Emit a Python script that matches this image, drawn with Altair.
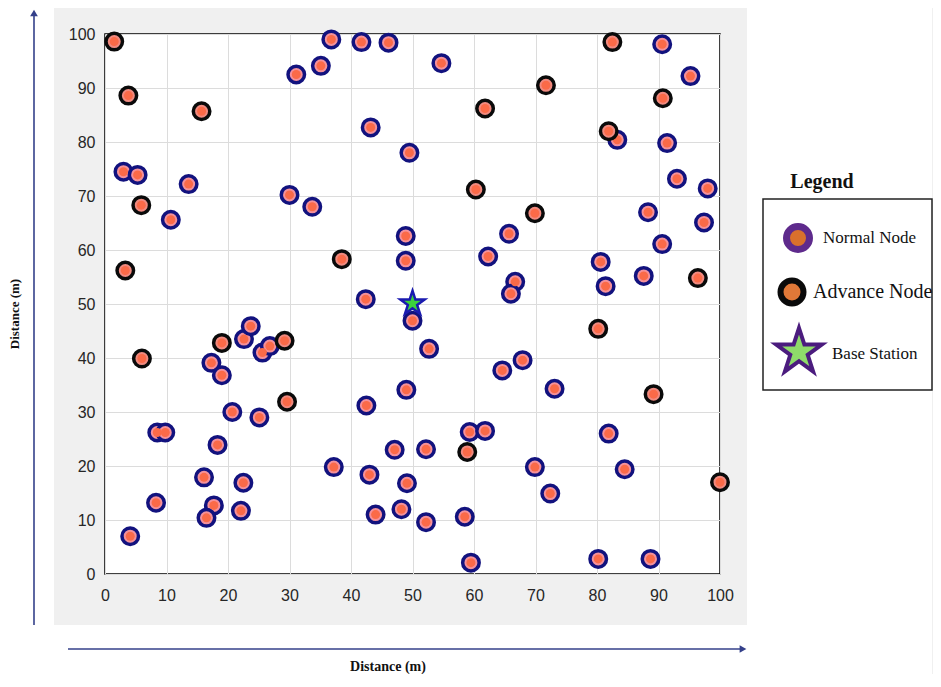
import altair as alt
import pandas as pd

# ---------------- data ----------------
normal_x = [3.0, 5.3, 10.7, 13.6, 31.1, 35.1, 36.8, 41.7, 46.1, 43.2, 30.0, 33.7, 42.4,
            54.7, 49.5, 90.6, 95.2, 83.3, 91.4, 93.0, 98.0, 88.3, 97.4, 90.6, 48.9, 48.9, 65.7, 62.3, 80.6, 81.4, 87.6, 66.7, 66.0,
            22.6, 23.7, 25.6, 26.8, 17.3, 19.0, 20.7, 25.1, 8.5, 9.8, 18.3, 16.1, 22.5, 8.3, 17.7, 16.5, 22.1, 4.1, 37.2, 42.5, 43.0, 44.0,
            50.0, 52.7, 49.0, 67.9, 64.6, 73.1, 59.3, 61.8, 47.1, 52.2, 49.1, 81.9, 84.5, 69.9, 72.4, 48.2, 52.2, 58.5, 59.5, 80.2, 88.7]
normal_y = [74.5, 73.9, 65.6, 72.2, 92.5, 94.1, 99.0, 98.5, 98.4, 82.7, 70.2, 68.0, 50.9,
            94.6, 78.0, 98.1, 92.2, 80.4, 79.8, 73.2, 71.4, 67.0, 65.1, 61.1, 62.6, 58.0, 63.0, 58.8, 57.8, 53.3, 55.2, 54.1, 51.9,
            43.5, 45.9, 41.0, 42.2, 39.1, 36.8, 30.0, 29.0, 26.2, 26.2, 23.9, 17.9, 16.9, 13.2, 12.7, 10.4, 11.7, 7.0, 19.8, 31.2, 18.4, 11.0,
            46.9, 41.7, 34.1, 39.6, 37.7, 34.3, 26.3, 26.5, 23.0, 23.1, 16.8, 26.0, 19.4, 19.8, 14.9, 12.0, 9.6, 10.6, 2.1, 2.8, 2.8]
advance_x = [1.5, 3.8, 15.7, 5.9, 3.3, 38.5, 71.7, 61.8, 82.5, 90.7, 81.9, 60.3, 69.9, 96.4,
             6.0, 19.0, 29.2, 29.6, 80.2, 89.2, 58.9, 100.0]
advance_y = [98.6, 88.6, 85.7, 68.3, 56.2, 58.3, 90.5, 86.2, 98.5, 88.1, 82.0, 71.2, 66.8, 54.8,
             39.9, 42.8, 43.2, 31.9, 45.4, 33.3, 22.6, 17.0]
base_x = [50.0]
base_y = [50.1]
axis_ticks = [0, 10, 20, 30, 40, 50, 60, 70, 80, 90, 100]
legend_labels = ["Normal Node", "Advance Node", "Base Station"]
legend_title = "Legend"
axis_title = "Distance (m)"

normal = pd.DataFrame({"x": normal_x, "y": normal_y})
advance = pd.DataFrame({"x": advance_x, "y": advance_y})
base_st = pd.DataFrame({"x": base_x, "y": base_y})
one = pd.DataFrame({"k": [0]})

W, H = 615, 540
STAR = ("M0,-1 L0.2245,-0.309 L0.951,-0.309 L0.3633,0.118 L0.588,0.809 L0,0.382 "
        "L-0.588,0.809 L-0.3633,0.118 L-0.951,-0.309 L-0.2245,-0.309 Z")

xs = alt.Scale(domain=[0, 100], nice=False)
ys = alt.Scale(domain=[0, 100], nice=False)
ax_common = dict(values=axis_ticks, title=None, grid=True, ticks=False, tickSize=0,
                 domain=False, labelFlush=False, labelFont="Liberation Sans", labelFontSize=16,
                 labelColor="#262626", gridColor="#DCDCDC", gridWidth=1)
X = alt.X("x:Q", scale=xs, axis=alt.Axis(labelPadding=13, **ax_common))
Y = alt.Y("y:Q", scale=ys, axis=alt.Axis(labelPadding=10, **ax_common))

def pt(df, size, fill, stroke=None, sw=0):
    kw = dict(shape="circle", filled=True, size=size, fill=fill, opacity=1)
    if stroke:
        kw.update(stroke=stroke, strokeWidth=sw)
    return alt.Chart(df).mark_point(**kw).encode(x=X, y=Y)

def rect(x1, x2, y1, y2, fill, stroke=None, sw=0):
    kw = dict(fill=fill)
    if stroke:
        kw.update(stroke=stroke, strokeWidth=sw)
    return alt.Chart(one).mark_rect(**kw).encode(
        x=alt.value(x1), x2=alt.value(x2), y=alt.value(y1), y2=alt.value(y2))

def txt(s, x, y, size, bold=False, align="left", angle=0, font="Liberation Serif", color="#111"):
    kw = dict(text=s, font=font, fontSize=size, align=align, baseline="middle", color=color)
    if bold:
        kw["fontWeight"] = "bold"
    if angle:
        kw["angle"] = angle
    return alt.Chart(one).mark_text(**kw).encode(x=alt.value(x), y=alt.value(y))

def sym(x, y, shape, size, fill, stroke, sw):
    return alt.Chart(one).mark_point(shape=shape, filled=True, size=size, fill=fill,
                                     stroke=stroke, strokeWidth=sw, opacity=1).encode(
        x=alt.value(x), y=alt.value(y))

ARROW = "#34408A"
layers = [
    # white surroundings outside the grey figure area
    rect(-97, -51, -26, 640, "white"),
    rect(-97, 827, 591, 640, "white"),
    rect(642, 827, -26, 640, "white"),
    # axis arrows
    alt.Chart(one).mark_rule(color=ARROW, strokeWidth=1.6).encode(
        x=alt.value(-71), y=alt.value(591), y2=alt.value(-20)),
    sym(-71, -21, "triangle-up", 60, ARROW, ARROW, 0),
    alt.Chart(one).mark_rule(color=ARROW, strokeWidth=1.6).encode(
        x=alt.value(-37), x2=alt.value(637), y=alt.value(615)),
    sym(638, 615, "triangle-right", 60, ARROW, ARROW, 0),
    # axis titles
    txt(axis_title, -90, 280, 13, bold=True, align="center", angle=270),
    txt(axis_title, 283, 633, 14, bold=True, align="center"),
    # legend
    txt(legend_title, 717, 148, 20, bold=True, align="center"),
    rect(658, 827, 165, 356, "white", "#222", 1.5),
    sym(693, 204, "circle", 529, "#D9702C", "#5E2A8C", 7),
    txt(legend_labels[0], 718, 204, 17),
    sym(687, 258, "circle", 529, "#E07838", "#0A0A0A", 6),
    txt(legend_labels[1], 708, 258, 20),
    sym(694, 318, STAR, 2300, "#8EDC6A", "#4B1C7E", 4),
    txt(legend_labels[2], 727, 320, 17),
    # data
    pt(normal, 272, "#F4919B", "#12127E", 3.5),
    pt(normal, 81, "#FB6A48"),
    pt(advance, 272, "#F08A80", "#0A0A0A", 3.5),
    pt(advance, 81, "#FB6A48"),
    alt.Chart(base_st).mark_point(shape=STAR, filled=True, size=650, fill="#3CD23C",
                                  stroke="#1A1AB0", strokeWidth=2.5, opacity=1).encode(x=X, y=Y),
]

chart = alt.layer(*layers).properties(width=W, height=H, padding=0).configure(
    background="#F0F0F0"
).configure_view(fill="white", stroke="black", strokeWidth=1.5)

chart.save("out.html", embed_options={"renderer": "svg", "actions": False})
